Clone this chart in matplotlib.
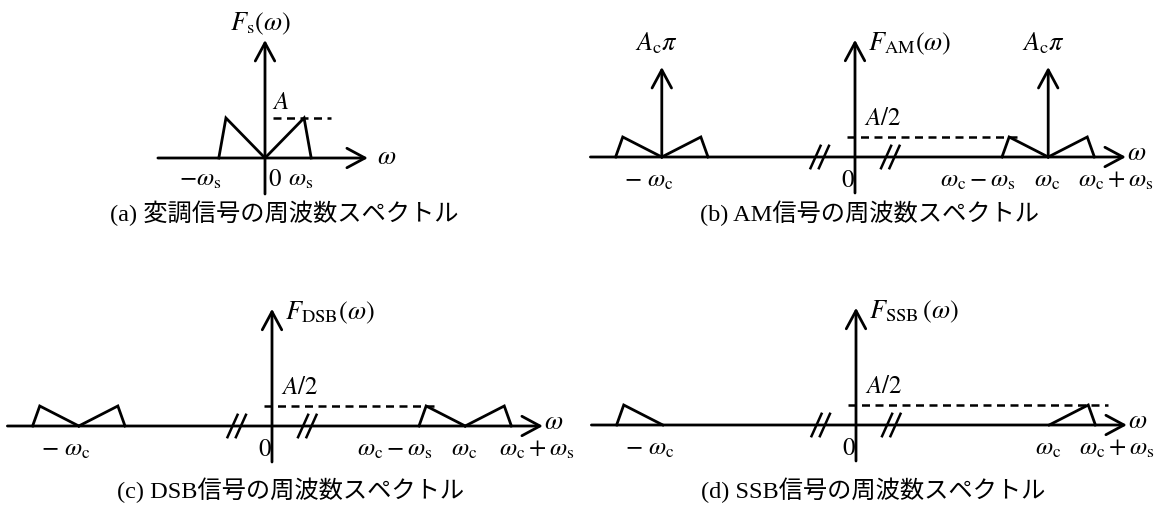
import matplotlib
matplotlib.use("Agg")
import matplotlib.pyplot as plt

plt.rcParams["mathtext.fontset"] = "stix"
plt.rcParams["font.family"] = ["Liberation Serif", "Noto Sans CJK JP"]

W, H = 1156, 509
PX_X = 42.0  # pixels per omega_s
PX_Y = 40.0  # pixels per A

# spectrum values (frequency in units of omega_s, amplitude in units of A)
A = 1.0
ws = 1.0
wc = 4.6  # carrier position as drawn (the axis is broken)
band_w = [0.0, 0.93, 1.1]  # one sideband: rises to its peak, then drops
band_amp = [0.0, 1.0, 0.0]
carrier_amp = 2.25  # A_c pi impulse, drawn height

captions = [
    "(a) 変調信号の周波数スペクトル",
    "(b) AM信号の周波数スペクトル",
    "(c) DSB信号の周波数スペクトル",
    "(d) SSB信号の周波数スペクトル",
]
y_labels = [
    r"$F_{\mathrm{s}}(\omega)$",
    r"$F_{\mathrm{AM}}(\omega)$",
    r"$F_{\mathrm{DSB}}(\omega)$",
    r"$F_{\mathrm{SSB}}\,(\omega)$",
]

LW = 2.0
FS = 18


def make_panel(fig, ox, oy):
    left, right = max(ox - 270, 0), min(ox + 298, W)
    top, bottom = max(oy - 158, 0), min(oy + 80, H)
    ax = fig.add_axes([left / W, 1 - bottom / H, (right - left) / W, (bottom - top) / H])
    ax.set_xlim((left - ox) / PX_X, (right - ox) / PX_X)
    ax.set_ylim((oy - bottom) / PX_Y, (oy - top) / PX_Y)
    ax.axis("off")
    return ax


def arrow(ax, x0, y0, x1, y1):
    ax.annotate(
        "", xy=(x1, y1), xytext=(x0, y0), annotation_clip=False,
        arrowprops=dict(arrowstyle="->,head_length=0.65,head_width=0.35",
                        lw=LW, color="black", shrinkA=0, shrinkB=0,
                        mutation_scale=20),
    )


def axis_break(ax, xc):
    for dx in (-0.1, 0.1):
        ax.plot([xc + dx - 0.12, xc + dx + 0.12], [-0.28, 0.28],
                color="black", lw=1.8, clip_on=False)


def sideband(ax, center, scale, upper=True, lower=True):
    if upper:
        ax.plot([center + w for w in band_w], [a * scale for a in band_amp],
                color="black", lw=LW, clip_on=False, solid_joinstyle="miter")
    if lower:
        ax.plot([center - w for w in band_w], [a * scale for a in band_amp],
                color="black", lw=LW, clip_on=False, solid_joinstyle="miter")


def dashed(ax, x0, x1, y):
    ax.plot([x0, x1], [y, y], color="black", lw=1.8, ls=(0, (3.2, 2.2)), clip_on=False)


def label(ax, x, y, s, ha="center", va="center", size=FS):
    ax.text(x, y, s, ha=ha, va=va, fontsize=size, clip_on=False)


fig = plt.figure(figsize=(W / 100, H / 100), dpi=100)
fig.patch.set_facecolor("white")

# (a) baseband
ax = make_panel(fig, 265, 158)
arrow(ax, -2.55, 0, 2.45, 0)
arrow(ax, 0, -0.9, 0, 2.95)
sideband(ax, 0, A)
dashed(ax, 0.19, 1.57, A)
label(ax, -0.12, 3.35, y_labels[0], size=19)
label(ax, 0.17, 1.37, r"$A$", ha="left")
label(ax, 2.9, 0.0, r"$\omega$", size=19)
label(ax, -1.55, -0.55, r"$-\omega_{\mathrm{s}}$")
label(ax, 0.24, -0.55, r"$0$")
label(ax, 0.86, -0.55, r"$\omega_{\mathrm{s}}$")

# (b) AM, (c) DSB, (d) SSB
origins = [(855, 157), (272, 426), (856, 425)]
dash_end = [wc - 0.93 * ws + 0.3, wc - 0.93 * ws + 0.3, wc + 0.93 * ws + 0.47]
sum_label_x = [6.2, 6.3, 6.2]
for i, (ox, oy) in enumerate(origins):
    kind = i + 1
    ax = make_panel(fig, ox, oy)
    arrow(ax, -6.3, 0, 6.45, 0)
    arrow(ax, 0, -0.9, 0, 2.93)
    axis_break(ax, -0.84)
    axis_break(ax, 0.84)
    dashed(ax, -0.2, dash_end[i], A / 2)
    if kind == 3:
        sideband(ax, wc, A / 2, upper=True, lower=False)
        sideband(ax, -wc, A / 2, upper=False, lower=True)
    else:
        sideband(ax, wc, A / 2)
        sideband(ax, -wc, A / 2)
    if kind == 1:
        for c in (-wc, wc):
            arrow(ax, c, 0, c, carrier_amp)
            label(ax, c - 0.12, 2.85, r"$A_{\mathrm{c}}\pi$", size=19)
    label(ax, 0.3, 2.83, y_labels[kind], ha="left", size=19)
    label(ax, 0.22, 0.95, r"$A/2$", ha="left")
    label(ax, 6.7, 0.08, r"$\omega$", size=19)
    label(ax, -wc - 0.3, -0.6, r"$-\ \omega_{\mathrm{c}}$")
    label(ax, -0.17, -0.6, r"$0$")
    if kind != 3:
        label(ax, 2.93, -0.6, r"$\omega_{\mathrm{c}}-\omega_{\mathrm{s}}$")
    label(ax, wc - 0.03, -0.6, r"$\omega_{\mathrm{c}}$")
    label(ax, sum_label_x[i], -0.6, r"$\omega_{\mathrm{c}}+\omega_{\mathrm{s}}$")

caption_pos = [(284, 213), (870, 213), (291, 490), (873, 490)]
for (cx, cy), text in zip(caption_pos, captions):
    fig.text(cx / W, 1 - cy / H, text, ha="center", va="center", fontsize=17.5)

fig.savefig("out.png", dpi=100, facecolor="white")
